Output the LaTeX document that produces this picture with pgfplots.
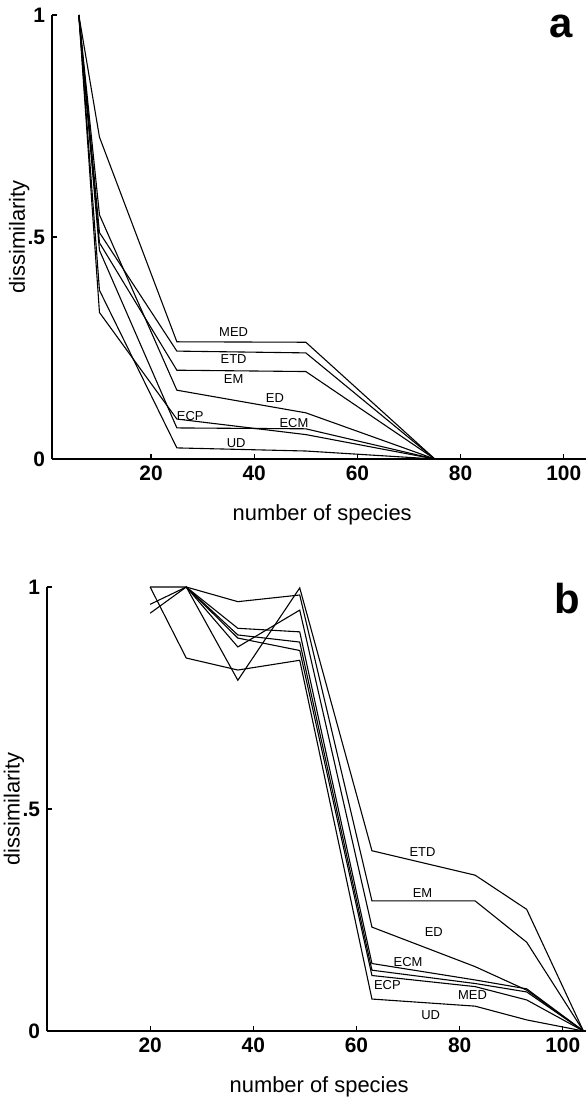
\documentclass[border=0pt]{standalone}
\usepackage{fontspec}
\setmainfont{Liberation Sans}
\usepackage{pgfplots}
\pgfplotsset{compat=1.18}

\pgfplotsset{panel/.style={
  scale only axis, height=222bp, ymin=0, ymax=1, xmax=104.5,
  axis lines*=left, axis line style={line width=0.6pt},
  tick align=inside, major tick length=2.5bp, tick style={line width=0.6pt,black},
  xtick={20,40,60,80,100}, xticklabels={20,40,60,80,100},
  ytick={0,0.5,1}, yticklabels={0,.5,1},
  tick label style={font=\fontsize{10.5}{12}\selectfont\bfseries},
  xlabel={number of species}, ylabel={dissimilarity},
  label style={font=\fontsize{11}{13}\selectfont},
  xlabel style={at={(axis description cs:0.505,-0.126)}, anchor=center},
  ylabel style={at={(axis description cs:-0.0615,0.5)}, anchor=center},
  clip=false,
},
ln/.style={black, solid, line width=0.55pt, mark=none}}
\newcommand{\lab}{\fontsize{6.5}{7}\selectfont}

\begin{document}
\begin{tikzpicture}
\useasboundingbox (0,0) rectangle (293bp,-549bp);

% panel a
\begin{axis}[panel, at={(26bp,-229.5bp)}, anchor=south west, width=267.5bp, xmin=0.8]
\addplot[ln] coordinates {(6,1) (10,0.725) (25,0.264) (50,0.263) (75,0)}; % MED
\addplot[ln] coordinates {(6,1) (10,0.51) (25,0.243) (50,0.239) (75,0)};  % ETD
\addplot[ln] coordinates {(6,1) (10,0.487) (25,0.200) (50,0.197) (75,0)}; % EM
\addplot[ln] coordinates {(6,1) (10,0.55) (25,0.155) (50,0.104) (75,0)};  % ED
\addplot[ln] coordinates {(6,1) (10,0.47) (25,0.07) (50,0.068) (75,0)};   % ECM
\addplot[ln] coordinates {(6,1) (10,0.33) (25,0.09) (50,0.055) (75,0)};   % ECP
\addplot[ln] coordinates {(6,1) (10,0.38) (25,0.025) (50,0.018) (75,0)};  % UD
\node[font=\lab] at (axis cs:36,0.286) {MED};
\node[font=\lab] at (axis cs:36,0.225) {ETD};
\node[font=\lab] at (axis cs:36,0.180) {EM};
\node[font=\lab] at (axis cs:44,0.137) {ED};
\node[font=\lab] at (axis cs:27.6,0.097) {ECP};
\node[font=\lab] at (axis cs:47.7,0.082) {ECM};
\node[font=\lab] at (axis cs:36.5,0.035) {UD};
\node[font=\fontsize{21}{24}\selectfont\bfseries] at (axis cs:99.4,0.974) {a};
\end{axis}

% panel b
\begin{axis}[panel, at={(23.5bp,-515.5bp)}, anchor=south west, width=269.5bp, xmin=0]
\addplot[ln] coordinates {(20,0.941) (27,1) (37,0.79) (49,0.998) (63,0.406) (83,0.351) (93,0.274) (104,0)}; % ETD
\addplot[ln] coordinates {(20,1) (27,1) (37,0.967) (49,0.982) (63,0.293) (83,0.293) (93,0.200) (104,0)};     % EM
\addplot[ln] coordinates {(20,0.961) (27,1) (37,0.865) (49,0.948) (63,0.234) (83,0.145) (93,0.092) (104,0)}; % ED
\addplot[ln] coordinates {(27,1) (37,0.907) (49,0.899) (63,0.152) (83,0.115) (93,0.095) (104,0)};            % ECM
\addplot[ln] coordinates {(27,1) (37,0.892) (49,0.876) (63,0.137) (83,0.107) (93,0.088) (104,0)};            % ECP
\addplot[ln] coordinates {(27,1) (37,0.885) (49,0.857) (63,0.125) (83,0.100) (93,0.070) (104,0)};            % MED
\addplot[ln] coordinates {(20,1) (27,0.84) (37,0.813) (49,0.835) (63,0.072) (83,0.056) (93,0.025) (104,0)};   % UD
\node[font=\lab] at (axis cs:72.8,0.403) {ETD};
\node[font=\lab] at (axis cs:72.8,0.310) {EM};
\node[font=\lab] at (axis cs:75,0.223) {ED};
\node[font=\lab] at (axis cs:70,0.155) {ECM};
\node[font=\lab] at (axis cs:66,0.104) {ECP};
\node[font=\lab] at (axis cs:82.5,0.081) {MED};
\node[font=\lab] at (axis cs:74.4,0.036) {UD};
\node[font=\fontsize{21}{24}\selectfont\bfseries] at (axis cs:100.8,0.973) {b};
\end{axis}
\end{tikzpicture}
\end{document}
